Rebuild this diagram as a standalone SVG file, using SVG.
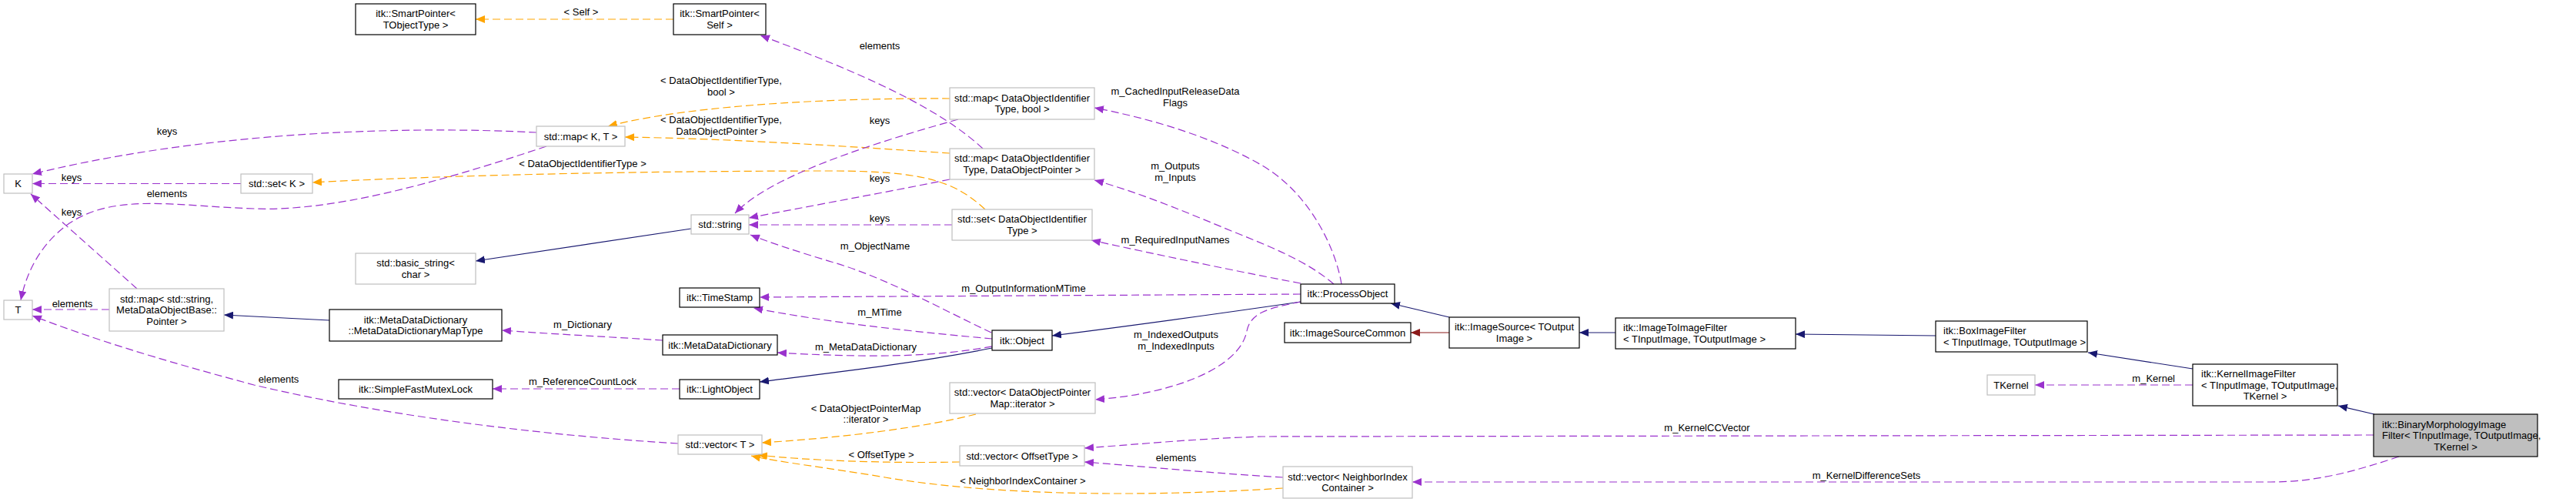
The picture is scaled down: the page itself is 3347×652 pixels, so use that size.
<svg xmlns="http://www.w3.org/2000/svg" width="3347" height="652" viewBox="0 0 3347 652">
<defs>
<style>
text{font-family:"Liberation Sans",Arial,sans-serif;font-size:13px;fill:#000}
.m{text-anchor:middle}
.n rect{fill:#fff;stroke:#000;stroke-width:1.2}
.n.u rect{stroke:#bfbfbf}
.n.main rect{fill:#bfbfbf}
.e path{fill:none;stroke-width:1.2}
.p{stroke:#9a32cd;stroke-dasharray:10,5}
.o{stroke:#ffa500;stroke-dasharray:10,5}
.b{stroke:#191970}
.r{stroke:#8b1a1a}
</style>
<marker id="ap" viewBox="0 0 12 10" refX="12" refY="5" markerWidth="12" markerHeight="10" markerUnits="userSpaceOnUse" orient="auto"><path d="M0,0 L12,5 L0,10 z" fill="#9a32cd"/></marker>
<marker id="ao" viewBox="0 0 12 10" refX="12" refY="5" markerWidth="12" markerHeight="10" markerUnits="userSpaceOnUse" orient="auto"><path d="M0,0 L12,5 L0,10 z" fill="#ffa500"/></marker>
<marker id="ab" viewBox="0 0 12 10" refX="12" refY="5" markerWidth="12" markerHeight="10" markerUnits="userSpaceOnUse" orient="auto"><path d="M0,0 L12,5 L0,10 z" fill="#191970"/></marker>
<marker id="ar" viewBox="0 0 12 10" refX="12" refY="5" markerWidth="12" markerHeight="10" markerUnits="userSpaceOnUse" orient="auto"><path d="M0,0 L12,5 L0,10 z" fill="#8b1a1a"/></marker>
</defs>
<rect width="3347" height="652" fill="#fff"/>

<g id="connectors" class="e">
<!-- inheritance -->
<path class="b" d="M3085,538 L3038,527" marker-end="url(#ab)"/>
<path class="b" d="M2849,479 L2713,458" marker-end="url(#ab)"/>
<path class="b" d="M2515,436 L2333,434" marker-end="url(#ab)"/>
<path class="b" d="M2099,432 L2052,432" marker-end="url(#ab)"/>
<path class="b" d="M1883,412 L1807,394" marker-end="url(#ab)"/>
<path class="r" d="M1883,432 L1833,432" marker-end="url(#ar)"/>
<path class="b" d="M1690,392 C1600,405 1480,422 1367,436" marker-end="url(#ab)"/>
<path class="b" d="M1289,452 C1200,470 1100,482 987,496" marker-end="url(#ab)"/>
<path class="b" d="M428,416 L291,409" marker-end="url(#ab)"/>
<path class="b" d="M898,297 L618,339" marker-end="url(#ab)"/>

<!-- templates -->
<path class="o" d="M875,25 L618,25" marker-end="url(#ao)"/>
<text class="m" x="755" y="20">&lt; Self &gt;</text>
<path class="o" d="M1234,128 C1100,127 900,135 790,164" marker-end="url(#ao)"/>
<text class="m" x="937" y="109">&lt; DataObjectIdentifierType,</text>
<text class="m" x="937" y="124">bool &gt;</text>
<path class="o" d="M1234,199 C1100,190 950,180 812,178" marker-end="url(#ao)"/>
<text class="m" x="937" y="160">&lt; DataObjectIdentifierType,</text>
<text class="m" x="937" y="175">DataObjectPointer &gt;</text>
<path class="o" d="M1280,272 C1240,235 1200,222 1080,222 C800,222 550,229 406,237" marker-end="url(#ao)"/>
<text class="m" x="757" y="217">&lt; DataObjectIdentifierType &gt;</text>
<path class="o" d="M1268,538 C1200,555 1100,568 990,575" marker-end="url(#ao)"/>
<text class="m" x="1125" y="535">&lt; DataObjectPointerMap</text>
<text class="m" x="1125" y="549">::iterator &gt;</text>
<path class="o" d="M1247,600 C1150,602 1050,598 985,591" marker-end="url(#ao)"/>
<text class="m" x="1145" y="595">&lt; OffsetType &gt;</text>
<path class="o" d="M1667,634 C1500,645 1300,645 1150,620 C1080,608 1010,600 976,592" marker-end="url(#ao)"/>
<text class="m" x="1329" y="629">&lt; NeighborIndexContainer &gt;</text>

<!-- usage -->
<path class="p" d="M697,172 C540,164 280,168 42,226" marker-end="url(#ap)"/>
<text class="m" x="217" y="175">keys</text>
<path class="p" d="M313,238.5 L42,238.5" marker-end="url(#ap)"/>
<text class="m" x="93" y="235">keys</text>
<path class="p" d="M178,375 L40,252" marker-end="url(#ap)"/>
<text class="m" x="93" y="280">keys</text>
<path class="p" d="M710,190 C560,240 430,275 330,271 C230,268 150,250 90,290 C55,315 35,350 27,390" marker-end="url(#ap)"/>
<text class="m" x="217" y="256">elements</text>
<path class="p" d="M142,402 L42,402" marker-end="url(#ap)"/>
<text class="m" x="94" y="399">elements</text>
<path class="p" d="M881,576 C700,565 500,540 330,500 C200,465 120,440 42,410" marker-end="url(#ap)"/>
<text class="m" x="362" y="497">elements</text>
<path class="p" d="M861,442 C800,438 720,434 652,429" marker-end="url(#ap)"/>
<text class="m" x="757" y="426">m_Dictionary</text>
<path class="p" d="M883,505 L640,505" marker-end="url(#ap)"/>
<text class="m" x="757" y="500">m_ReferenceCountLock</text>
<path class="p" d="M1277,193 C1220,140 1120,95 988,46" marker-end="url(#ap)"/>
<text class="m" x="1143" y="64">elements</text>
<path class="p" d="M1245,155 C1120,190 1000,230 955,277" marker-end="url(#ap)"/>
<text class="m" x="1143" y="161">keys</text>
<path class="p" d="M1234,233 C1150,250 1050,268 973,283" marker-end="url(#ap)"/>
<text class="m" x="1143" y="236">keys</text>
<path class="p" d="M1237,292 L973,292" marker-end="url(#ap)"/>
<text class="m" x="1143" y="288">keys</text>
<path class="p" d="M1288,432 C1220,400 1150,360 1080,340 C1040,328 1000,315 975,305" marker-end="url(#ap)"/>
<text class="m" x="1137" y="324">m_ObjectName</text>
<path class="p" d="M1690,382 L987,386" marker-end="url(#ap)"/>
<text class="m" x="1330" y="379">m_OutputInformationMTime</text>
<path class="p" d="M1289,440 C1200,432 1080,420 979,400" marker-end="url(#ap)"/>
<text class="m" x="1143" y="410">m_MTime</text>
<path class="p" d="M1289,450 C1220,462 1150,466 1010,458" marker-end="url(#ap)"/>
<text class="m" x="1125" y="455">m_MetaDataDictionary</text>
<path class="p" d="M1743,369 C1735,320 1700,250 1640,215 C1580,180 1500,155 1422,140" marker-end="url(#ap)"/>
<text class="m" x="1527" y="123">m_CachedInputReleaseData</text>
<text class="m" x="1527" y="138">Flags</text>
<path class="p" d="M1733,369 C1700,340 1650,320 1600,300 C1540,275 1480,250 1422,234" marker-end="url(#ap)"/>
<text class="m" x="1527" y="220">m_Outputs</text>
<text class="m" x="1527" y="235">m_Inputs</text>
<path class="p" d="M1690,368 C1620,355 1500,330 1418,312" marker-end="url(#ap)"/>
<text class="m" x="1527" y="316">m_RequiredInputNames</text>
<path class="p" d="M1690,392 C1650,400 1625,405 1620,430 C1610,480 1520,512 1423,519" marker-end="url(#ap)"/>
<text class="m" x="1528" y="439">m_IndexedOutputs</text>
<text class="m" x="1528" y="454">m_IndexedInputs</text>
<path class="p" d="M3084,565 L1640,567 C1550,570 1480,577 1409,582" marker-end="url(#ap)"/>
<text class="m" x="2218" y="560">m_KernelCCVector</text>
<path class="p" d="M3117,593 C3060,612 3010,626 2950,626 L1835,626" marker-end="url(#ap)"/>
<text class="m" x="2425" y="622">m_KernelDifferenceSets</text>
<path class="p" d="M1667,620 C1580,615 1500,607 1409,600" marker-end="url(#ap)"/>
<text class="m" x="1528" y="599">elements</text>
<path class="p" d="M2849,500 L2644,500" marker-end="url(#ap)"/>
<text x="2826" y="496" text-anchor="end">m_Kernel</text>
</g>

<g id="n_K" class="n u"><rect x="5" y="226" width="37" height="25"/><text class="m" x="23.5" y="243">K</text></g>
<g id="n_setK" class="n u"><rect x="313" y="226" width="93" height="25"/><text class="m" x="359.5" y="243">std::set&lt; K &gt;</text></g>
<g id="n_SPTObj" class="n"><rect x="462" y="5" width="156" height="40"/><text class="m" x="540" y="22.25">itk::SmartPointer&lt;</text><text class="m" x="540" y="36.75">TObjectType &gt;</text></g>
<g id="n_SPSelf" class="n"><rect x="875" y="5" width="120" height="40"/><text class="m" x="935" y="22.25">itk::SmartPointer&lt;</text><text class="m" x="935" y="36.75">Self &gt;</text></g>
<g id="n_mapKT" class="n u"><rect x="697" y="164" width="115" height="26"/><text class="m" x="754.5" y="181.5">std::map&lt; K, T &gt;</text></g>
<g id="n_string" class="n u"><rect x="898" y="279" width="75" height="25"/><text class="m" x="935.5" y="296">std::string</text></g>
<g id="n_basicstring" class="n u"><rect x="462" y="329" width="156" height="40"/><text class="m" x="540" y="346.25">std::basic_string&lt;</text><text class="m" x="540" y="360.75">char &gt;</text></g>
<g id="n_T" class="n u"><rect x="5" y="390" width="37" height="25"/><text class="m" x="23.5" y="407">T</text></g>
<g id="n_mapString" class="n u"><rect x="142" y="375" width="149" height="55"/><text class="m" x="216.5" y="392.5">std::map&lt; std::string,</text><text class="m" x="216.5" y="407">MetaDataObjectBase::</text><text class="m" x="216.5" y="421.5">Pointer &gt;</text></g>
<g id="n_MDDMT" class="n"><rect x="428" y="402" width="224" height="41"/><text class="m" x="540" y="419.75">itk::MetaDataDictionary</text><text class="m" x="540" y="434.25">::MetaDataDictionaryMapType</text></g>
<g id="n_SFML" class="n"><rect x="440" y="493" width="200" height="25"/><text class="m" x="540" y="510">itk::SimpleFastMutexLock</text></g>
<g id="n_TimeStamp" class="n"><rect x="883" y="374" width="104" height="25"/><text class="m" x="935" y="391">itk::TimeStamp</text></g>
<g id="n_MDD" class="n"><rect x="861" y="435" width="149" height="26"/><text class="m" x="935.5" y="452.5">itk::MetaDataDictionary</text></g>
<g id="n_LightObject" class="n"><rect x="883" y="493" width="104" height="25"/><text class="m" x="935" y="510">itk::LightObject</text></g>
<g id="n_vectorT" class="n u"><rect x="881" y="565" width="109" height="25"/><text class="m" x="935.5" y="582">std::vector&lt; T &gt;</text></g>
<g id="n_mapBool" class="n u"><rect x="1234" y="114" width="188" height="41"/><text class="m" x="1328" y="131.75">std::map&lt; DataObjectIdentifier</text><text class="m" x="1328" y="146.25">Type, bool &gt;</text></g>
<g id="n_mapDOP" class="n u"><rect x="1234" y="193" width="188" height="40"/><text class="m" x="1328" y="210.25">std::map&lt; DataObjectIdentifier</text><text class="m" x="1328" y="224.75">Type, DataObjectPointer &gt;</text></g>
<g id="n_setDOIT" class="n u"><rect x="1237" y="272" width="182" height="40"/><text class="m" x="1328" y="289.25">std::set&lt; DataObjectIdentifier</text><text class="m" x="1328" y="303.75">Type &gt;</text></g>
<g id="n_Object" class="n"><rect x="1289" y="429" width="78" height="26"/><text class="m" x="1328" y="446.5">itk::Object</text></g>
<g id="n_vecDOPM" class="n u"><rect x="1234" y="497" width="189" height="40"/><text class="m" x="1328.5" y="514.25">std::vector&lt; DataObjectPointer</text><text class="m" x="1328.5" y="528.75">Map::iterator &gt;</text></g>
<g id="n_vecOffset" class="n u"><rect x="1247" y="579" width="162" height="26"/><text class="m" x="1328" y="596.5">std::vector&lt; OffsetType &gt;</text></g>
<g id="n_ProcessObject" class="n"><rect x="1690" y="369" width="122" height="25"/><text class="m" x="1751" y="386">itk::ProcessObject</text></g>
<g id="n_ISC" class="n"><rect x="1669" y="419" width="164" height="26"/><text class="m" x="1751" y="436.5">itk::ImageSourceCommon</text></g>
<g id="n_ImageSource" class="n"><rect x="1883" y="412" width="169" height="40"/><text class="m" x="1967.5" y="429.25">itk::ImageSource&lt; TOutput</text><text class="m" x="1967.5" y="443.75">Image &gt;</text></g>
<g id="n_vecNIC" class="n u"><rect x="1667" y="606" width="168" height="41"/><text class="m" x="1751" y="623.75">std::vector&lt; NeighborIndex</text><text class="m" x="1751" y="638.25">Container &gt;</text></g>
<g id="n_I2I" class="n"><rect x="2099" y="413" width="234" height="40"/><text x="2109" y="430.25">itk::ImageToImageFilter</text><text x="2109" y="444.75">&lt; TInputImage, TOutputImage &gt;</text></g>
<g id="n_Box" class="n"><rect x="2515" y="417" width="197" height="40"/><text x="2525" y="434.25">itk::BoxImageFilter</text><text x="2525" y="448.75">&lt; TInputImage, TOutputImage &gt;</text></g>
<g id="n_TKernel" class="n u"><rect x="2582" y="487" width="62" height="26"/><text class="m" x="2613" y="504.5">TKernel</text></g>
<g id="n_KIF" class="n"><rect x="2849" y="473" width="188" height="54"/><text x="2860" y="490">itk::KernelImageFilter</text><text x="2860" y="504.5">&lt; TInputImage, TOutputImage,</text><text class="m" x="2943" y="519">TKernel &gt;</text></g>
<g id="n_BMIF" class="n main"><rect x="3084" y="538" width="213" height="55"/><text x="3095" y="555.5">itk::BinaryMorphologyImage</text><text x="3095" y="570">Filter&lt; TInputImage, TOutputImage,</text><text class="m" x="3190.5" y="584.5">TKernel &gt;</text></g>
</svg>
